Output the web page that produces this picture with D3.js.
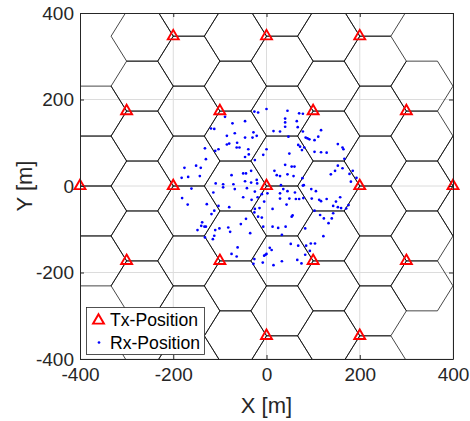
<!DOCTYPE html>
<html><head><meta charset="utf-8">
<script src="https://cdn.jsdelivr.net/npm/d3@7"></script>
<style>
body{margin:0;background:#fff}
text{font-family:"Liberation Sans",Arial,Helvetica,sans-serif}
</style>
</head><body>
<svg id="chart" width="470" height="421"></svg>
<script>
// ---- data ----
const xTicks = [-400, -200, 0, 200, 400];
const yTicks = [-400, -200, 0, 200, 400];
const xLabel = "X [m]";
const yLabel = "Y [m]";
const legendLabels = ["Tx-Position", "Rx-Position"];

// 19 three-sector sites (Tx), inter-site distance 200 m
const txX = [0, 200, 100, -100, -200, -100, 100, 400, 300, 200, 0, -200, -300, -400, -300, -200, 0, 200, 300];
const txY = [0, 0, 173.2, 173.2, 0, -173.2, -173.2, 0, 173.2, 346.4, 346.4, 346.4, 173.2, 0, -173.2, -346.4, -346.4, -346.4, -173.2];
// each site: three hexagonal cells meeting at the site
const cellRadius = 200 / 3;
const sectorAngles = [60, 180, 300];

// Rx positions [x, y] in m
const rxPoints = [
 [-89,160],[-26,172],[-18,170],[-119,133],[-112,132],[-73,145],[-46,150],[-85,116],[-68,122],[-28,124],
 [-46,112],[-30,112],[-21,116],[-85,96],[-80,98],[-63,100],[-64,89],[-58,89],[-132,87],[-103,85],
 [-110,81],[-39,85],[-46,67],[-38,73],[-7,72],[0,85],[-25,60],[-130,62],[-176,42],[-151,47],
 [-141,42],[-182,19],[-168,21],[-143,23],[-75,25],[-50,29],[-44,29],[-33,35],[-109,6],[-93,4],
 [-71,4],[-46,11],[-33,8],[-20,6],[-21,14],
 [0,178],[45,174],[70,168],[78,167],[40,156],[40,147],[65,150],[40,137],[67,136],[15,127],
 [29,126],[47,114],[78,126],[117,129],[84,112],[88,110],[92,108],[103,106],[111,114],[68,95],
 [72,91],[81,89],[76,83],[103,79],[117,78],[129,77],[153,97],[163,89],[165,85],[167,63],
 [49,75],[40,49],[54,45],[60,45],[17,35],[22,25],[29,23],[45,27],[58,23],[77,18],
 [31,2],[80,2],[138,27],[147,35],[153,47],[163,41],[178,28],[185,35],[181,10],[193,19],
 [-161,-6],[-114,-15],[-93,-3],[-68,-7],[-42,-5],[-181,-28],[-169,-43],[-128,-42],[-112,-57],[-118,-65],
 [-103,-46],[-80,-49],[-50,-26],[-32,-32],[-19,-26],[-10,-19],[-25,-53],[-15,-51],[-26,-61],[-18,-71],
 [-10,-73],[-5,-36],[-44,-76],[-55,-88],[-138,-84],[-140,-92],[-133,-94],[-130,-94],[-148,-102],[-110,-102],
 [-101,-98],[-82,-96],[-112,-115],[-115,-123],[-132,-119],[-35,-109],[-62,-142],[-75,-157],[-64,-163],[-26,-169],
 [-28,-180],[-8,-177],[-5,-161],[0,-157],[-7,-94],[-78,-106],[-25,-13],[2,-17],
 [36,-7],[45,-12],[61,-15],[78,1],[96,-7],[106,-12],[29,-17],[29,-29],[49,-29],[63,-30],
 [70,-30],[79,-28],[97,-29],[113,-32],[117,-35],[129,-30],[149,-36],[158,-26],[143,-46],[153,-49],
 [160,-51],[171,-52],[176,-44],[103,-57],[13,-53],[43,-43],[54,-71],[56,-68],[115,-67],[123,-75],
 [143,-63],[140,-75],[133,-86],[83,-98],[13,-94],[25,-97],[41,-94],[33,-113],[122,-116],[7,-143],
 [11,-148],[52,-134],[68,-138],[85,-138],[95,-133],[104,-133],[93,-150],[83,-159],[75,-179],[66,-171],
 [15,-183],[-2,-159],[33,-174]
];

// ---- layout ----
const plot = {left: 80, right: 453, top: 13, bottom: 359};
const axisColor = "#262626";

const svg = d3.select("#chart");
const x = d3.scaleLinear().domain([-400, 400]).range([plot.left, plot.right]);
const y = d3.scaleLinear().domain([-400, 400]).range([plot.bottom, plot.top]);

svg.append("defs").append("clipPath").attr("id", "clip")
  .append("rect").attr("x", plot.left).attr("y", plot.top)
  .attr("width", plot.right - plot.left).attr("height", plot.bottom - plot.top);

svg.append("rect").attr("x", plot.left).attr("y", plot.top)
  .attr("width", plot.right - plot.left).attr("height", plot.bottom - plot.top)
  .attr("fill", "#fff");

// grid
const grid = svg.append("g").attr("clip-path", "url(#clip)");
grid.selectAll("line.gx").data(xTicks).join("line")
  .attr("x1", d => x(d)).attr("x2", d => x(d))
  .attr("y1", plot.top).attr("y2", plot.bottom)
  .attr("stroke", "#dcdcdc").attr("stroke-width", 1);
grid.selectAll("line.gy").data(yTicks).join("line")
  .attr("y1", d => y(d)).attr("y2", d => y(d))
  .attr("x1", plot.left).attr("x2", plot.right)
  .attr("stroke", "#dcdcdc").attr("stroke-width", 1);

// hexagonal cells
const cells = [];
txX.forEach((tx, i) => {
  sectorAngles.forEach(a => {
    const r = a * Math.PI / 180;
    cells.push({cx: tx + cellRadius * Math.cos(r), cy: txY[i] + cellRadius * Math.sin(r)});
  });
});
const hexLine = d3.line().x(p => x(p[0])).y(p => y(p[1]));
const hexPts = c => d3.range(7).map(k => {
  const r = (k % 6) * Math.PI / 3;
  return [c.cx + cellRadius * Math.cos(r), c.cy + cellRadius * Math.sin(r)];
});
svg.append("g").attr("clip-path", "url(#clip)")
  .selectAll("path").data(cells).join("path")
  .attr("d", c => hexLine(hexPts(c)))
  .attr("fill", "none").attr("stroke", "#000")
  .attr("stroke-opacity", 0.72).attr("stroke-width", 1);

// Rx points
svg.append("g").attr("clip-path", "url(#clip)")
  .selectAll("circle").data(rxPoints).join("circle")
  .attr("cx", d => x(d[0])).attr("cy", d => y(d[1]))
  .attr("r", 1.35).attr("fill", "#0000ff");

// Tx markers
const tri = d3.symbol().type(d3.symbolTriangle).size(52);
svg.append("g")
  .selectAll("path").data(txX.map((v, i) => [v, txY[i]])).join("path")
  .attr("d", tri)
  .attr("transform", d => `translate(${x(d[0])},${y(d[1])})`)
  .attr("fill", "none").attr("stroke", "#ff0000").attr("stroke-width", 1.9);

// axes
function styleAxis(g) {
  g.selectAll(".domain").attr("stroke", axisColor).attr("stroke-width", 1);
  g.selectAll(".tick line").attr("stroke", axisColor).attr("stroke-width", 1);
  g.selectAll(".tick text").attr("fill", axisColor)
    .style("font-size", "19px").style("font-family", "'Liberation Sans', Arial, sans-serif");
}
svg.append("g").attr("transform", `translate(0,${plot.bottom})`)
  .call(d3.axisBottom(x).tickValues(xTicks).tickSizeInner(-4).tickSizeOuter(0).tickPadding(9).tickFormat(d3.format("d")))
  .call(styleAxis);
svg.append("g").attr("transform", `translate(0,${plot.top})`)
  .call(d3.axisTop(x).tickValues(xTicks).tickSizeInner(-4).tickSizeOuter(0).tickFormat(""))
  .call(styleAxis);
svg.append("g").attr("transform", `translate(${plot.left},0)`)
  .call(d3.axisLeft(y).tickValues(yTicks).tickSizeInner(-4).tickSizeOuter(0).tickPadding(6).tickFormat(d3.format("d")))
  .call(styleAxis);
svg.append("g").attr("transform", `translate(${plot.right},0)`)
  .call(d3.axisRight(y).tickValues(yTicks).tickSizeInner(-4).tickSizeOuter(0).tickFormat(""))
  .call(styleAxis);
svg.selectAll(".tick text").text(function(){ return this.textContent.replace("\u2212", "-"); });

// axis labels
svg.append("text").attr("x", (plot.left + plot.right) / 2).attr("y", 413)
  .attr("text-anchor", "middle").attr("fill", axisColor)
  .style("font-size", "22px").text(xLabel);
svg.append("text")
  .attr("transform", `translate(32,${(plot.top + plot.bottom) / 2}) rotate(-90)`)
  .attr("text-anchor", "middle").attr("fill", axisColor)
  .style("font-size", "22px").text(yLabel);

// legend
const lg = svg.append("g");
lg.append("rect").attr("x", 86.5).attr("y", 307.5).attr("width", 118).attr("height", 47)
  .attr("fill", "#fff").attr("stroke", axisColor).attr("stroke-width", 0.8);
lg.append("path").attr("d", tri).attr("transform", "translate(98.5,320.5)")
  .attr("fill", "none").attr("stroke", "#ff0000").attr("stroke-width", 1.9);
lg.append("circle").attr("cx", 99).attr("cy", 342.5).attr("r", 1.35).attr("fill", "#0000ff");
lg.selectAll("text").data(legendLabels).join("text")
  .attr("x", 110).attr("y", (d, i) => 326 + i * 23.3)
  .attr("fill", "#000").style("font-size", "17.6px").text(d => d);
</script>
</body></html>
